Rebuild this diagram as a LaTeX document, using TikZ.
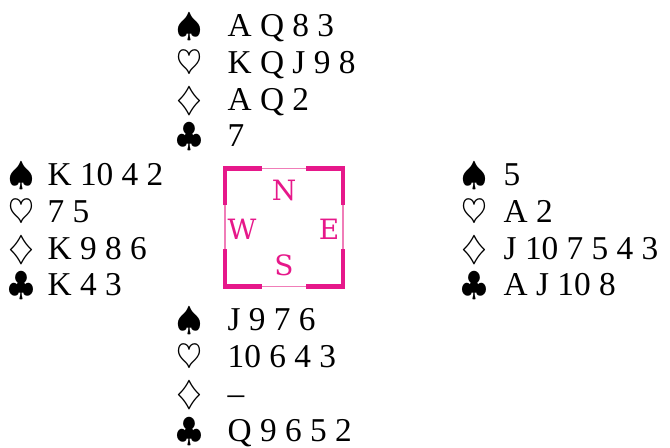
\documentclass[tikz,border=0pt]{standalone}
\usepackage{fix-cm}
\usepackage{fontspec}
\setmainfont{Liberation Serif}
\newfontfamily\seatfont{DejaVu Serif}
\usepackage{tikz}
\usetikzlibrary{positioning}
\definecolor{boardpink}{HTML}{E6188A}
\definecolor{boardline}{HTML}{F07DB8}

\begin{document}
\begin{tikzpicture}[x=0.75pt, y=-0.75pt,
        suit/.style={anchor=base west, inner sep=0pt, font=\fontsize{25}{25}\selectfont},
        nextrow/.style={below=27.5pt of #1.base west, anchor=base west},
        cards/.style={anchor=base west, inner sep=0pt, font=\fontsize{25}{25}\selectfont},
        seat/.style={inner sep=0pt, text=boardpink, font=\seatfont\fontsize{21}{21}\selectfont},
        bracket/.style={boardpink, line width=3.4pt}
    ]
        \useasboundingbox (0,0) rectangle (670,448);

        % north hand
        \node (ns) [suit] at (176,37) {$\spadesuit$};
        \node (nh) [suit, nextrow=ns] {$\heartsuit$};
        \node (nd) [suit, nextrow=nh] {$\diamondsuit$};
        \node (nc) [suit, nextrow=nd] {$\clubsuit$};
        \node (nsc) [right=18.7pt of ns.base east, cards] {A Q 8 3};
        \node (nhc) [right=18.7pt of nh.base east, cards] {K Q J 9 8};
        \node (ndc) [right=18.7pt of nd.base east, cards] {A Q 2};
        \node (ncc) [right=18.7pt of nc.base east, cards] {7};

        % west hand
        \node (ws) [suit] at (8,186) {$\spadesuit$};
        \node (wh) [suit, nextrow=ws] {$\heartsuit$};
        \node (wd) [suit, nextrow=wh] {$\diamondsuit$};
        \node (wc) [suit, nextrow=wd] {$\clubsuit$};
        \node (wsc) [right=9.7pt of ws.base east, cards] {K 10 4 2};
        \node (whc) [right=9.7pt of wh.base east, cards] {7 5};
        \node (wdc) [right=9.7pt of wd.base east, cards] {K 9 8 6};
        \node (wcc) [right=9.7pt of wc.base east, cards] {K 4 3};

        % east hand
        \node (es) [suit] at (461,186) {$\spadesuit$};
        \node (eh) [suit, nextrow=es] {$\heartsuit$};
        \node (ed) [suit, nextrow=eh] {$\diamondsuit$};
        \node (ec) [suit, nextrow=ed] {$\clubsuit$};
        \node (esc) [right=12pt of es.base east, cards] {5};
        \node (ehc) [right=12pt of eh.base east, cards] {A 2};
        \node (edc) [right=12pt of ed.base east, cards] {J 10 7 5 4 3};
        \node (ecc) [right=12pt of ec.base east, cards] {A J 10 8};

        % south hand
        \node (ss) [suit] at (176,331) {$\spadesuit$};
        \node (sh) [suit, nextrow=ss] {$\heartsuit$};
        \node (sd) [suit, nextrow=sh] {$\diamondsuit$};
        \node (sc) [suit, nextrow=sd] {$\clubsuit$};
        \node (ssc) [right=18.7pt of ss.base east, cards] {J 9 7 6};
        \node (shc) [right=18.7pt of sh.base east, cards] {10 6 4 3};
        \node (sdc) [right=18.7pt of sd.base east, cards] {--};
        \node (scc) [right=18.7pt of sc.base east, cards] {Q 9 6 5 2};

        % compass box
        \node (board) [draw=boardline, line width=0.8pt, minimum size=88.5pt, inner sep=0pt, outer sep=0pt] at (284,227.5) {};
        \draw [bracket] (board.north west) ++(0,37) -- (board.north west) -- ++(37,0);
        \draw [bracket] (board.north east) ++(0,37) -- (board.north east) -- ++(-37,0);
        \draw [bracket] (board.south west) ++(0,-37) -- (board.south west) -- ++(37,0);
        \draw [bracket] (board.south east) ++(0,-37) -- (board.south east) -- ++(-37,0);
        \node (north) [seat] at ([yshift=28pt]board.center) {N};
        \node (south) [seat] at ([yshift=-28pt]board.center) {S};
        \node (west) [seat] at ([xshift=-31.5pt, yshift=-1.1pt]board.center) {W};
        \node (east) [seat] at ([xshift=33.75pt, yshift=-1.1pt]board.center) {E};
    \end{tikzpicture}
\end{document}
